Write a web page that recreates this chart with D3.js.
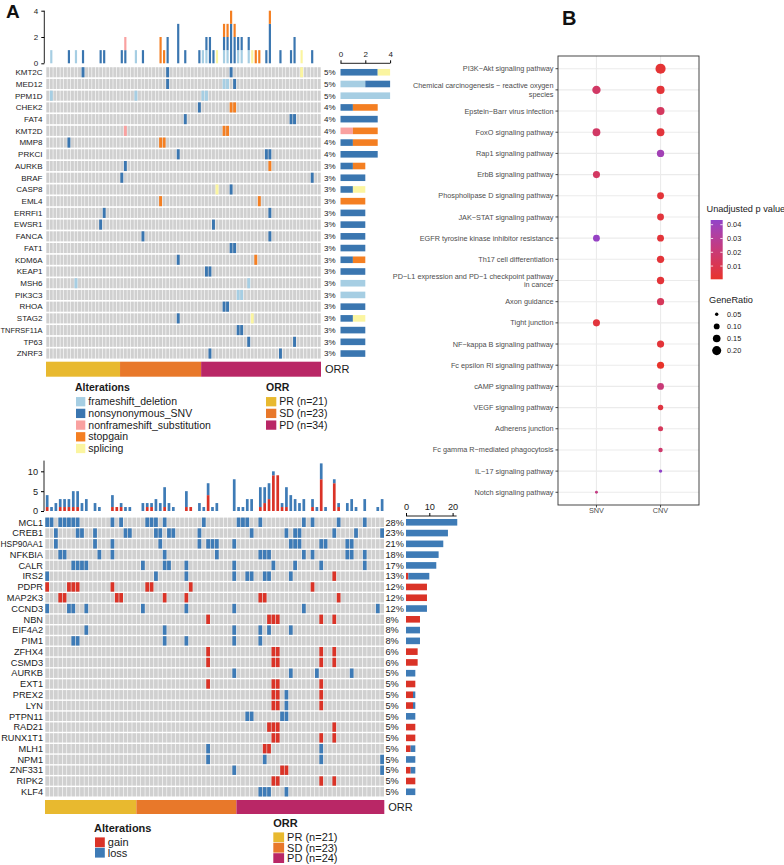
<!DOCTYPE html>
<html><head><meta charset="utf-8">
<script src="https://cdn.jsdelivr.net/npm/d3@7"></script>
<style>body{margin:0;background:#fff}svg{display:block}text{font-family:"Liberation Sans",Arial,sans-serif}</style>
</head><body><svg id="c" width="784" height="865"></svg>
<script>
// ---------------- DATA ----------------
const N_SAMPLES = 78;
const orrGroups = ["PR", "SD", "PD"];
const orrCounts = [21, 23, 34];
const orrLegendTop = ["PR (n=21)", "SD (n=23)", "PD (n=34)"];
const orrLegendBottom = ["PR (n=21)", "SD (n=23)", "PD (n=24)"];
const orrColors = ["#E8B92F", "#E8782A", "#B92766"];

// Panel A top: SNV oncoplot
const topGenes = ["KMT2C","MED12","PPM1D","CHEK2","FAT4","KMT2D","MMP8","PRKCI","AURKB","BRAF","CASP8","EML4","ERRFI1","EWSR1","FANCA","FAT1","KDM6A","KEAP1","MSH6","PIK3C3","RHOA","STAG2","TNFRSF11A","TP63","ZNRF3"];
const topTypes = ["frameshift_deletion","nonsynonymous_SNV","nonframeshift_substitution","stopgain","splicing"];
const topTypeColors = ["#A6CEE3","#3A76B0","#F9A1A0","#F47F22","#FBF5A0"];
const topFrameshiftDeletion = [["PPM1D",[1,25,44,45]],["MED12",[50,51]],["MSH6",[8,57]],["PIK3C3",[54,55]]];
const topNonsynonymousSNV = [["KMT2C",[10,34,52]],["MED12",[34,53]],["CHEK2",[43]],["FAT4",[39,69,70]],["MMP8",[6]],["PRKCI",[37,62,63]],["AURKB",[22]],["BRAF",[21,75]],["CASP8",[52]],["ERRFI1",[16,63]],["EWSR1",[15,47]],["FANCA",[27,63]],["FAT1",[52,53]],["KDM6A",[37]],["KEAP1",[45,46]],["RHOA",[50,51]],["STAG2",[37]],["TNFRSF11A",[54,55]],["TP63",[57,70]],["ZNRF3",[46,66]]];
const topNonframeshiftSubstitution = [["KMT2D",[22]]];
const topStopgain = [["CHEK2",[52,53]],["KMT2D",[50,51]],["MMP8",[32,33]],["AURKB",[63]],["EML4",[32,60]],["KDM6A",[59]]];
const topSplicing = [["KMT2C",[72]],["CASP8",[48]],["STAG2",[58]]];
const topBarTicks = [0, 2, 4];

// Panel A bottom: CNV oncoplot
const botGenes = ["MCL1","CREB1","HSP90AA1","NFKBIA","CALR","IRS2","PDPR","MAP2K3","CCND3","NBN","EIF4A2","PIM1","ZFHX4","CSMD3","AURKB","EXT1","PREX2","LYN","PTPN11","RAD21","RUNX1T1","MLH1","NPM1","ZNF331","RIPK2","KLF4"];
const botTypes = ["gain","loss"];
const botTypeColors = ["#DA3327","#3E7BB6"];
const botGain = [["IRS2",[66]],["PDPR",[0,5,6,7,15,23,24,33,61]],["MAP2K3",[3,4,16,17,27,32,49,50,67]],["NBN",[37,51,52,53,63,66]],["ZFHX4",[37,52,53,63,66]],["CSMD3",[37,52,53,63,66]],["EXT1",[37,52,53,63]],["PREX2",[52,53,63]],["LYN",[52,53,63]],["RAD21",[51,52,53,66]],["RUNX1T1",[52,53,63,66]],["MLH1",[50,51]],["ZNF331",[54,55]],["RIPK2",[52,53,63,66]]];
const botLoss = [["MCL1",[0,1,3,4,5,6,7,15,17,23,24,25,27,36,44,45,46,49,59,61,67,73]],["CREB1",[2,7,8,11,18,19,25,26,28,29,35,47,55,57,58,66,71,77]],["HSP90AA1",[2,11,15,26,35,37,38,39,43,56,57,58,63,64,69,70]],["NFKBIA",[3,4,12,15,27,39,49,50,51,59,61,69,70,73]],["CALR",[6,7,8,9,22,27,28,32,43,52,57,63,73]],["IRS2",[0,25,32,43,46,47,50,51,56]],["CCND3",[0,5,6,9,22,32,43,59,76]],["EIF4A2",[9,27,43,49,51,56]],["PIM1",[6,7,27,32,43,49]],["AURKB",[43,56,62,70]],["PREX2",[55]],["LYN",[55]],["PTPN11",[46,47,54,55]],["MLH1",[37,63]],["NPM1",[37,50,63,77]],["ZNF331",[43,77]],["KLF4",[49,50,51,55]]];
const botBarTicks = [0, 5, 10];
const botSideTicks = [0, 10, 20];

// Panel B: KEGG dot plot
const pathways = ["PI3K\u2212Akt signaling pathway","Chemical carcinogenesis \u2212 reactive oxygen|species","Epstein\u2212Barr virus infection","FoxO signaling pathway","Rap1 signaling pathway","ErbB signaling pathway","Phospholipase D signaling pathway","JAK\u2212STAT signaling pathway","EGFR tyrosine kinase inhibitor resistance","Th17 cell differentiation","PD\u2212L1 expression and PD\u22121 checkpoint pathway|in cancer","Axon guidance","Tight junction","NF\u2212kappa B signaling pathway","Fc epsilon RI signaling pathway","cAMP signaling pathway","VEGF signaling pathway","Adherens junction","Fc gamma R\u2212mediated phagocytosis","IL\u221217 signaling pathway","Notch signaling pathway"];
const dotGroups = ["SNV","CNV"];
const snvPathIdx   = [1, 3, 5, 8, 12, 20];
const snvGeneRatio = [0.175, 0.155, 0.132, 0.125, 0.132, 0.043];
const snvPValue    = [0.016, 0.016, 0.015, 0.042, 0.005, 0.024];
const cnvPathIdx   = [0, 1, 2, 3, 4, 6, 7, 8, 9, 10, 11, 13, 14, 15, 16, 17, 18, 19];
const cnvGeneRatio = [0.245, 0.165, 0.16, 0.155, 0.14, 0.125, 0.125, 0.125, 0.14, 0.14, 0.135, 0.135, 0.135, 0.125, 0.088, 0.08, 0.067, 0.05];
const cnvPValue    = [0.003, 0.004, 0.014, 0.005, 0.038, 0.004, 0.005, 0.004, 0.004, 0.004, 0.013, 0.004, 0.0004, 0.021, 0.006, 0.013, 0.018, 0.0434];
const pTicks = [0.01, 0.02, 0.03, 0.04];
const ratioTicks = [0.05, 0.10, 0.15, 0.20];

// ---------------- DRAW ----------------
const svg = d3.select("#c");
const FONT = '"Liberation Sans",Arial,sans-serif';

function fitText(sel, maxW) {
  sel.each(function () {
    const w = this.getComputedTextLength();
    if (w > maxW) d3.select(this).attr("textLength", maxW).attr("lengthAdjust", "spacingAndGlyphs");
  });
}

function drawOnco(o) {
  const g = svg.append("g");
  const x = d3.scaleBand().domain(d3.range(N_SAMPLES)).range([o.x0, o.x1]);
  const y = d3.scaleBand().domain(o.genes).range([o.yTop, o.yTop + o.rowH * o.genes.length]).paddingInner(o.rowPad).paddingOuter(o.rowPad / 2);
  const recs = [];
  o.sets.forEach((set, ti) => set.forEach(([gene, cols]) => cols.forEach(c => recs.push({ gene, col: c, type: ti }))));
  const bw = x.bandwidth();
  o.genes.forEach(gene => {
    g.append("g").selectAll("rect").data(d3.range(N_SAMPLES)).join("rect")
      .attr("x", c => x(c) + 0.3).attr("width", bw - 0.6)
      .attr("y", y(gene)).attr("height", y.bandwidth())
      .attr("fill", "#D0D0D0");
  });
  g.append("g").selectAll("rect").data(recs).join("rect")
    .attr("x", d => x(d.col) + 0.3).attr("width", bw - 0.6)
    .attr("y", d => y(d.gene)).attr("height", y.bandwidth())
    .attr("fill", d => o.colors[d.type]);
  const gl = g.append("g").selectAll("text").data(o.genes).join("text")
    .attr("x", o.labelX).attr("y", d => y(d) + y.bandwidth() / 2).attr("dy", "0.35em")
    .attr("text-anchor", "end").attr("font-size", o.fs).attr("fill", "#1a1a1a").text(d => d);
  fitText(gl, o.labelX - 0.5);
  const cnt = d3.rollup(recs, v => new Set(v.map(d => d.col)).size, d => d.gene);
  g.append("g").selectAll("text").data(o.genes).join("text")
    .attr("x", o.pctX).attr("y", d => y(d) + y.bandwidth() / 2).attr("dy", "0.35em")
    .attr("font-size", o.fs).attr("fill", "#1a1a1a")
    .text(d => Math.round((cnt.get(d) || 0) / N_SAMPLES * 100) + "%");
  // top stacked bars (one segment per alteration type)
  const yb = d3.scaleLinear().domain([0, o.barMax]).range([o.barBase, o.barTop]);
  const stackRecs = [];
  d3.group(recs, d => d.col).forEach((v, col) => {
    let cum = 0;
    d3.rollups(v, a => a.length, d => d.type).sort((a, b) => a[0] - b[0]).forEach(([type, n]) => {
      stackRecs.push({ col, type, y0: cum, y1: cum + n }); cum += n;
    });
  });
  const barW = bw * o.barFrac;
  g.append("g").selectAll("rect").data(stackRecs).join("rect")
    .attr("x", d => x(d.col) + (bw - barW) / 2).attr("width", barW)
    .attr("y", d => yb(d.y1)).attr("height", d => yb(d.y0) - yb(d.y1))
    .attr("fill", d => o.colors[d.type]);
  const ax = g.append("g").attr("transform", `translate(${o.barAxisX},0)`)
    .call(d3.axisLeft(yb).tickValues(o.barTicks).tickSize(3).tickSizeOuter(0).tickFormat(d3.format("d")));
  ax.select(".domain").attr("stroke", "#222").attr("d", `M0,${yb(0)}V${o.barTop}`);
  ax.selectAll("text").attr("font-size", o.fs).attr("font-family", FONT).attr("fill", "#1a1a1a");
  // side bars
  const xs = d3.scaleLinear().domain([0, 1]).range([o.sideX0, o.sideX0 + o.sideUnit]);
  const sideRecs = [];
  d3.group(recs, d => d.gene).forEach((v, gene) => {
    let cum = 0;
    d3.rollups(v, a => a.length, d => d.type).sort((a, b) => a[0] - b[0]).forEach(([type, n]) => {
      sideRecs.push({ gene, type, x0: cum, x1: cum + n }); cum += n;
    });
  });
  g.append("g").selectAll("rect").data(sideRecs).join("rect")
    .attr("x", d => xs(d.x0)).attr("width", d => xs(d.x1) - xs(d.x0))
    .attr("y", d => y(d.gene) + (y.bandwidth() - o.sideH) / 2).attr("height", o.sideH)
    .attr("fill", d => o.colors[d.type]);
  const sax = g.append("g").attr("transform", `translate(0,${o.sideAxisY})`)
    .call(d3.axisTop(xs).tickValues(o.sideTicks).tickSize(3).tickSizeOuter(0).tickFormat(d3.format("d")));
  sax.select(".domain").attr("stroke", "#222").attr("d", `M${xs(0)},0H${xs(o.sideTicks[o.sideTicks.length - 1]) + o.sideExtra}`);
  sax.selectAll("text").attr("font-size", o.fs).attr("font-family", FONT).attr("fill", "#1a1a1a");
  // ORR bar
  let start = 0;
  orrCounts.forEach((n, i) => {
    g.append("rect").attr("x", x(start)).attr("width", x(start + n - 1) + bw - x(start))
      .attr("y", o.orrY).attr("height", o.orrH).attr("fill", orrColors[i]);
    start += n;
  });
  g.append("text").attr("x", o.x1 + 4).attr("y", o.orrY + o.orrH / 2).attr("dy", "0.35em")
    .attr("font-size", o.orrFs).attr("fill", "#1a1a1a").text("ORR");
  // legends
  const lg = g.append("g");
  lg.append("text").attr("x", o.legX).attr("y", o.legY).attr("dy", "0.35em").attr("font-weight", "bold")
    .attr("font-size", o.legFs).attr("fill", "#1a1a1a").text("Alterations");
  o.types.forEach((t, i) => {
    const cy = o.legY + o.legTitleGap + i * o.legStep;
    lg.append("rect").attr("x", o.legX + 1).attr("y", cy - o.legKey / 2).attr("width", o.legKey).attr("height", o.legKey).attr("fill", o.colors[i]);
    lg.append("text").attr("x", o.legX + o.legKey + 4).attr("y", cy).attr("dy", "0.35em").attr("font-size", o.legFs).attr("fill", "#1a1a1a").text(t);
  });
  lg.append("text").attr("x", o.orrLegX).attr("y", o.orrLegY).attr("dy", "0.35em").attr("font-weight", "bold")
    .attr("font-size", o.legFs).attr("fill", "#1a1a1a").text("ORR");
  o.orrLegend.forEach((t, i) => {
    const cy = o.orrLegY + o.legTitleGap + i * o.legStep;
    lg.append("rect").attr("x", o.orrLegX).attr("y", cy - o.legKey / 2).attr("width", o.legKey + 1).attr("height", o.legKey).attr("fill", orrColors[i]);
    lg.append("text").attr("x", o.orrLegX + o.legKey + 4).attr("y", cy).attr("dy", "0.35em").attr("font-size", o.legFs).attr("fill", "#1a1a1a").text(t);
  });
}

drawOnco({
  genes: topGenes, types: topTypes, colors: topTypeColors,
  sets: [topFrameshiftDeletion, topNonsynonymousSNV, topNonframeshiftSubstitution, topStopgain, topSplicing],
  x0: 46, x1: 321, yTop: 66.4, rowH: 11.72, rowPad: 0.14, fs: 8,
  labelX: 42.5, pctX: 324, barMax: 4, barBase: 63.3, barTop: 10.7, barTicks: topBarTicks, barAxisX: 44.3, barFrac: 0.62,
  sideX0: 340.5, sideUnit: 12.4, sideH: 6.6, sideAxisY: 63.3, sideTicks: topBarTicks, sideExtra: 0,
  orrY: 361.7, orrH: 15, orrFs: 11,
  legX: 75, legY: 387.3, legTitleGap: 14.4, legStep: 11.7, legKey: 9.3, legFs: 10.5,
  orrLegX: 266, orrLegY: 387.3, orrLegend: orrLegendTop
});

drawOnco({
  genes: botGenes, types: botTypes, colors: botTypeColors,
  sets: [botGain, botLoss],
  x0: 45, x1: 384.3, yTop: 516.9, rowH: 10.78, rowPad: 0.13, fs: 9.2,
  labelX: 43, pctX: 385.5, barMax: 12.7, barBase: 511, barTop: 460.6, barTicks: botBarTicks, barAxisX: 44, barFrac: 0.62,
  sideX0: 406, sideUnit: 2.33, sideH: 6.6, sideAxisY: 516, sideTicks: botSideTicks, sideExtra: 4,
  orrY: 800, orrH: 14, orrFs: 11,
  legX: 94, legY: 828.3, legTitleGap: 14, legStep: 10.4, legKey: 9.8, legFs: 11,
  orrLegX: 273.3, orrLegY: 823.3, orrLegend: orrLegendBottom
});

svg.append("text").attr("x", 6).attr("y", 18).attr("font-size", 19).attr("font-weight", "bold").attr("fill", "#111").text("A");
svg.append("text").attr("x", 562).attr("y", 25).attr("font-size", 20).attr("font-weight", "bold").attr("fill", "#111").text("B");

// ---------------- Panel B ----------------
const B = { left: 558, right: 699, top: 56, bottom: 505 };
const bx = d3.scalePoint().domain(dotGroups).range([B.left, B.right]).padding(0.6);
const by = d3.scalePoint().domain(d3.range(pathways.length)).range([B.top, B.bottom]).padding(0.6);
const dots = [];
snvPathIdx.forEach((p, i) => dots.push({ grp: "SNV", path: p, ratio: snvGeneRatio[i], p: snvPValue[i] }));
cnvPathIdx.forEach((p, i) => dots.push({ grp: "CNV", path: p, ratio: cnvGeneRatio[i], p: cnvPValue[i] }));
const pExt = d3.extent(dots, d => d.p);
const col = d3.scaleLinear().domain(pExt).range(["#E8332A", "#9143C9"]).interpolate(d3.interpolateLab);
const area = d3.scaleLinear().domain([0.05, 0.20]).range([2.9, 20.5]);
const rad = v => Math.sqrt(Math.max(1.2, area(v)));

const gb = svg.append("g");
gb.append("rect").attr("x", B.left).attr("y", B.top).attr("width", B.right - B.left).attr("height", B.bottom - B.top).attr("fill", "#fff");
gb.selectAll("line.h").data(d3.range(pathways.length)).join("line").attr("class", "h")
  .attr("x1", B.left).attr("x2", B.right).attr("y1", d => by(d)).attr("y2", d => by(d)).attr("stroke", "#EBEBEB").attr("stroke-width", 1.1);
gb.selectAll("line.v").data(dotGroups).join("line").attr("class", "v")
  .attr("y1", B.top).attr("y2", B.bottom).attr("x1", d => bx(d)).attr("x2", d => bx(d)).attr("stroke", "#EBEBEB").attr("stroke-width", 1.1);
gb.selectAll("circle").data(dots).join("circle")
  .attr("cx", d => bx(d.grp)).attr("cy", d => by(d.path)).attr("r", d => rad(d.ratio)).attr("fill", d => col(d.p));
gb.append("rect").attr("x", B.left).attr("y", B.top).attr("width", B.right - B.left).attr("height", B.bottom - B.top)
  .attr("fill", "none").attr("stroke", "#333").attr("stroke-width", 0.9);
const yl = gb.append("g");
pathways.forEach((p, i) => {
  const yy = by(i);
  yl.append("line").attr("x1", B.left - 2.5).attr("x2", B.left).attr("y1", yy).attr("y2", yy).attr("stroke", "#333").attr("stroke-width", 0.9);
  const parts = p.split("|");
  const t = yl.append("text").attr("x", B.left - 4.5).attr("text-anchor", "end").attr("font-size", 7.3).attr("fill", "#4D4D4D");
  if (parts.length === 1) {
    t.attr("y", yy).attr("dy", "0.35em").text(parts[0]);
  } else {
    t.append("tspan").attr("x", B.left - 4.5).attr("y", yy - 4.1).attr("dy", "0.35em").text(parts[0]);
    t.append("tspan").attr("x", B.left - 4.5).attr("y", yy + 4.4).attr("dy", "0.35em").text(parts[1]);
  }
});
dotGroups.forEach(gname => {
  gb.append("line").attr("x1", bx(gname)).attr("x2", bx(gname)).attr("y1", B.bottom).attr("y2", B.bottom + 2.5).attr("stroke", "#333").attr("stroke-width", 0.9);
  gb.append("text").attr("x", bx(gname)).attr("y", B.bottom + 8).attr("text-anchor", "middle").attr("font-size", 7.3).attr("fill", "#4D4D4D").text(gname);
});
const cb = { x: 710.7, w: 12, top: 220, bottom: 279.3 };
const cbScale = d3.scaleLinear().domain(pExt).range([cb.bottom, cb.top]);
const defs = svg.append("defs");
const grad = defs.append("linearGradient").attr("id", "pg").attr("x1", 0).attr("x2", 0).attr("y1", 1).attr("y2", 0);
d3.range(0, 1.001, 0.1).forEach(t => grad.append("stop").attr("offset", t).attr("stop-color", col(pExt[0] + t * (pExt[1] - pExt[0]))));
gb.append("text").attr("x", 706.5).attr("y", 209).attr("dy", "0.35em").attr("font-size", 9.2).attr("fill", "#1a1a1a").text("Unadjusted p value");
gb.append("rect").attr("x", cb.x).attr("y", cb.top).attr("width", cb.w).attr("height", cb.bottom - cb.top).attr("fill", "url(#pg)");
pTicks.forEach(v => {
  const yy = cbScale(v);
  gb.append("line").attr("x1", cb.x).attr("x2", cb.x + 2.4).attr("y1", yy).attr("y2", yy).attr("stroke", "#fff").attr("stroke-width", 0.8);
  gb.append("line").attr("x1", cb.x + cb.w - 2.4).attr("x2", cb.x + cb.w).attr("y1", yy).attr("y2", yy).attr("stroke", "#fff").attr("stroke-width", 0.8);
  gb.append("text").attr("x", 727).attr("y", yy).attr("dy", "0.35em").attr("font-size", 7.3).attr("fill", "#1a1a1a").text(v.toFixed(2));
});
gb.append("text").attr("x", 709).attr("y", 300).attr("dy", "0.35em").attr("font-size", 9.2).attr("fill", "#1a1a1a").text("GeneRatio");
ratioTicks.forEach((v, i) => {
  const yy = 314.3 + i * 12.1;
  gb.append("circle").attr("cx", 716.7).attr("cy", yy).attr("r", rad(v)).attr("fill", "#000");
  gb.append("text").attr("x", 727).attr("y", yy).attr("dy", "0.35em").attr("font-size", 7.3).attr("fill", "#1a1a1a").text(v.toFixed(2));
});
</script></body></html>
